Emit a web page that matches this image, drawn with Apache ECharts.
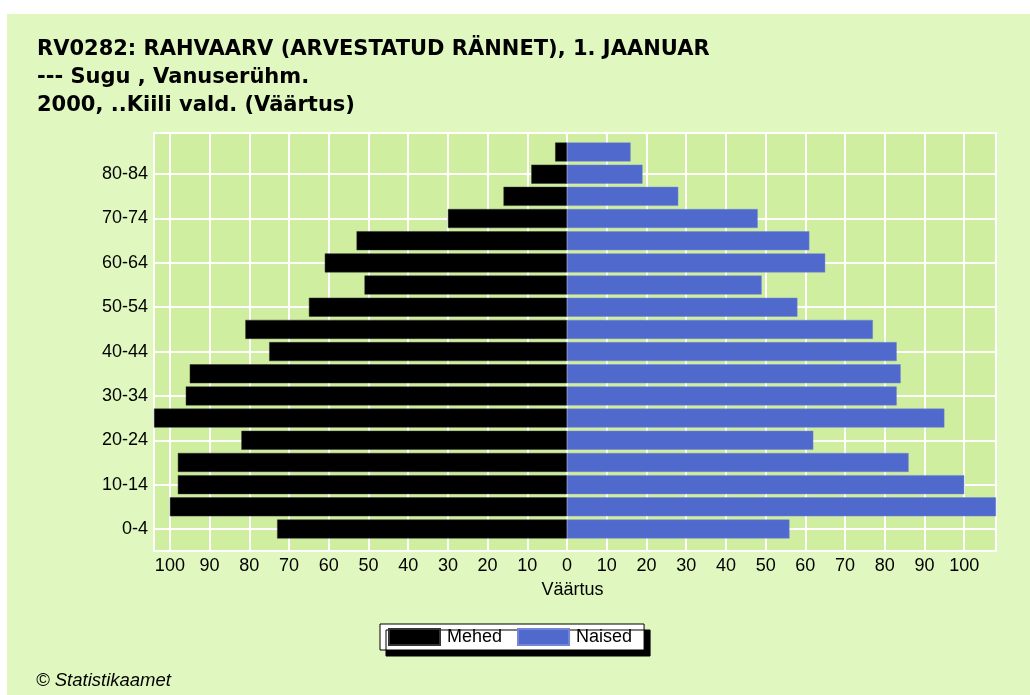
<!DOCTYPE html>
<html>
<head>
<meta charset="utf-8">
<script src="https://cdn.jsdelivr.net/npm/echarts@6/dist/echarts.min.js"></script>
<style>
html,body{margin:0;padding:0;background:#fff;}
#panel{position:absolute;left:7px;top:14px;width:1023px;height:681px;background:#E0F8C0;}
#chart{position:absolute;left:0;top:0;width:1030px;height:695px;}
</style>
</head>
<body>
<div id="panel"></div>
<div id="chart"></div>
<script>
// Age groups, bottom to top
const categories = ['0-4','5-9','10-14','15-19','20-24','25-29','30-34','35-39','40-44','45-49','50-54','55-59','60-64','65-69','70-74','75-79','80-84','85+'];
// Mehed (men) counts
const mehed = [73,100,98,98,82,104,96,95,75,81,65,51,61,53,30,16,9,3];
// Naised (women) counts
const naised = [56,108,100,86,62,95,83,84,83,77,58,49,65,61,48,28,19,16];
const seriesNames = ['Mehed','Naised'];
const titleText = 'RV0282: RAHVAARV (ARVESTATUD RÄNNET), 1. JAANUAR\n--- Sugu , Vanuserühm.\n2000, ..Kiili vald. (Väärtus)';
const axisName = 'Väärtus';
const footer = '© Statistikaamet';

const xMin = -104, xMax = 108;
const font = 'Liberation Sans';

const chart = echarts.init(document.getElementById('chart'), null, {renderer:'canvas'});
chart.setOption({
  backgroundColor: 'transparent',
  animation: false,
  textStyle: {fontFamily: font},
  title: [
    {text: titleText, left: 37, top: 36, padding: 0,
     textStyle: {fontFamily: 'DejaVu Sans', fontSize: 21, fontWeight: 'bold', color: '#000', lineHeight: 28}},
    {text: footer, left: 36, top: 672, padding: 0,
     textStyle: {fontFamily: font, fontSize: 18.5, fontWeight: 'normal', fontStyle: 'italic', color: '#000', lineHeight: 18}}
  ],
  legend: {
    left: 380, top: 624, orient: 'horizontal',
    data: seriesNames,
    icon: 'rect', itemWidth: 51, itemHeight: 16, itemGap: 15,
    padding: [4, 12, 4, 8],
    backgroundColor: '#fff', borderColor: '#000', borderWidth: 1,
    shadowColor: '#000', shadowBlur: 0, shadowOffsetX: 6, shadowOffsetY: 6,
    textStyle: {fontFamily: font, fontSize: 18, color: '#000', padding: [0,0,0,2]}
  },
  grid: [
    {left: 154, top: 133, width: 842, height: 418, show: true,
     backgroundColor: '#D0EEA0', borderColor: '#fff', borderWidth: 2},
    {left: 154, top: 152, width: 842, height: 377}
  ],
  xAxis: [
    {type: 'value', gridIndex: 0, min: xMin, max: xMax, minInterval: 10, maxInterval: 10, splitNumber: 21,
     name: axisName, nameLocation: 'middle', nameGap: 30,
     nameTextStyle: {fontFamily: font, fontSize: 18, color: '#000', padding: [0,5,0,0]},
     axisLine: {show: false}, axisTick: {show: false},
     axisLabel: {fontFamily: font, fontSize: 18, color: '#000', margin: 6,
       formatter: v => (Math.round(v) % 10 === 0 ? String(Math.abs(v)) : '')},
     splitLine: {show: true, lineStyle: {color: '#fff', width: 2}}},
    {type: 'value', gridIndex: 1, min: xMin, max: xMax, show: false}
  ],
  yAxis: [
    {type: 'value', gridIndex: 0, min: 0, max: 1, show: false},
    {type: 'category', gridIndex: 1, data: categories, boundaryGap: false,
     axisLine: {show: false}, axisTick: {show: false},
     axisLabel: {interval: 1, fontFamily: font, fontSize: 18, color: '#000', margin: 6},
     splitLine: {show: true, interval: 1, lineStyle: {color: '#fff', width: 2}}}
  ],
  series: [
    {name: seriesNames[0], type: 'bar', xAxisIndex: 1, yAxisIndex: 1,
     data: mehed.map(v => -v), barWidth: 19, barGap: '-100%', clip: false,
     itemStyle: {color: '#000000', borderColor: '#333', borderWidth: 0.5}},
    {name: seriesNames[1], type: 'bar', xAxisIndex: 1, yAxisIndex: 1,
     data: naised, barWidth: 19, barGap: '-100%', clip: false,
     itemStyle: {color: '#5069CC', borderColor: '#7285D6', borderWidth: 0.5}}
  ]
});
</script>
</body>
</html>
